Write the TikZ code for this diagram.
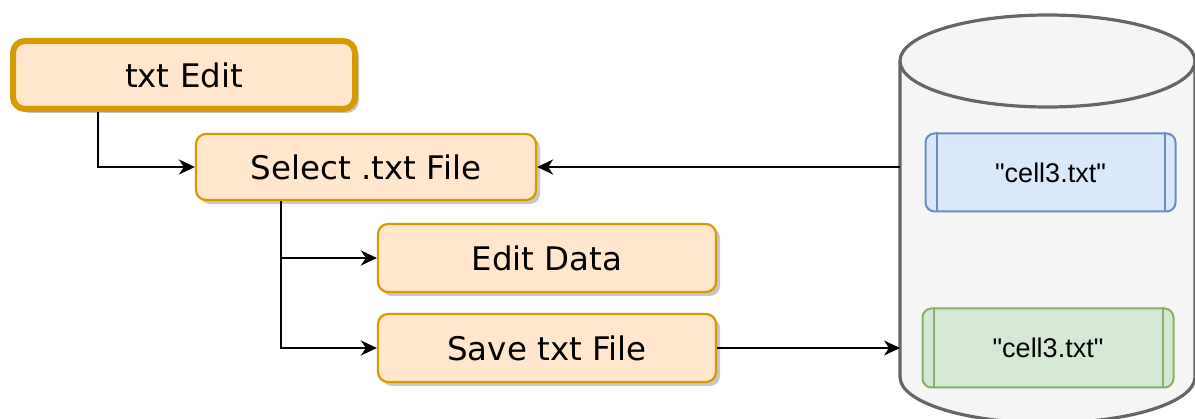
\documentclass[tikz,border=0pt]{standalone}
\usepackage{fontspec}
\setmainfont{DejaVu Sans}
\newfontfamily\cellfont{Liberation Sans}
\usetikzlibrary{arrows.meta,shadows}
\definecolor{ofill}{HTML}{FFE6CC}
\definecolor{ostroke}{HTML}{D79B00}
\definecolor{bfill}{HTML}{DAE8FC}
\definecolor{bstroke}{HTML}{6C8EBF}
\definecolor{gfill}{HTML}{D5E8D4}
\definecolor{gstroke}{HTML}{82B366}
\definecolor{cfill}{HTML}{F5F5F5}
\definecolor{cstroke}{HTML}{666666}
\tikzset{
  stepbox/.style={draw=ostroke, fill=ofill, line width=2.2pt, rounded corners=10pt,
    inner sep=0pt, font=\fontsize{32.5}{39}\selectfont,
    drop shadow={shadow xshift=4pt, shadow yshift=-4pt, fill=black!22, opacity=1}},
  mainbox/.style={stepbox, line width=6pt, rounded corners=12pt},
  cellbox/.style={line width=2pt, rounded corners=9pt, inner sep=0pt,
    font=\cellfont\fontsize{27}{32}\selectfont},
  arr/.style={draw=black, line width=2.2pt, -{Stealth[length=16pt,width=15pt,inset=5pt]}},
}
\begin{document}
\begin{tikzpicture}[x=1pt,y=-1pt]
\useasboundingbox (0,0) rectangle (1195,419);
% database cylinder
\fill[cfill] (900,61) -- (900,377) arc[start angle=180,end angle=360,x radius=147.5pt,y radius=46pt] -- (1195,61) arc[start angle=0,end angle=180,x radius=147.5pt,y radius=46pt] -- cycle;
\draw[cstroke, line width=3.2pt] (900,61) -- (900,377) arc[start angle=180,end angle=360,x radius=147.5pt,y radius=46pt] -- (1195,61);
\draw[cstroke, line width=3.2pt, fill=cfill] (1047.5,61) ellipse[x radius=147.5pt, y radius=46pt];
\coordinate (dbin) at (900,167);
\coordinate (dbout) at (900,348);
% boxes
\node[mainbox, minimum width=342pt, minimum height=68pt] (te) at (184,75) {txt Edit};
\node[stepbox, minimum width=340pt, minimum height=66pt] (sel) at (366,167) {Select .txt File};
\node[stepbox, minimum width=338pt, minimum height=68pt] (ed) at (547,258) {Edit Data};
\node[stepbox, minimum width=338pt, minimum height=68pt] (sv) at (547,348) {Save txt File};
% cells
\node[cellbox, draw=bstroke, fill=bfill, minimum width=250pt, minimum height=78pt] (c1) at (1050.5,172.5) {"cell3.txt"};
\draw[bstroke, line width=2pt] ([xshift=12pt]c1.north west) -- ([xshift=12pt]c1.south west);
\draw[bstroke, line width=2pt] ([xshift=-12pt]c1.north east) -- ([xshift=-12pt]c1.south east);
\node[cellbox, draw=gstroke, fill=gfill, minimum width=251pt, minimum height=79pt] (c2) at (1048,348) {"cell3.txt"};
\draw[gstroke, line width=2pt] ([xshift=12pt]c2.north west) -- ([xshift=12pt]c2.south west);
\draw[gstroke, line width=2pt] ([xshift=-12pt]c2.north east) -- ([xshift=-12pt]c2.south east);
% connectors
\draw[arr] ([xshift=-86pt]te.south) |- (sel.west);
\draw[arr] ([xshift=-85pt]sel.south) |- (ed.west);
\draw[arr] ([xshift=-85pt]sel.south) |- (sv.west);
\draw[arr] (dbin) -- (sel.east);
\draw[arr] (sv.east) -- (dbout);
\end{tikzpicture}
\end{document}
